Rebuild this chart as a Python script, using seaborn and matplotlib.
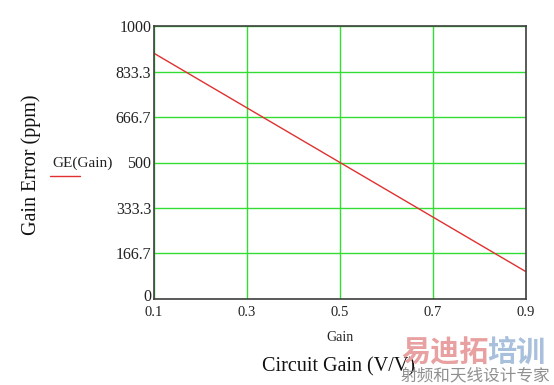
import matplotlib
matplotlib.use("Agg")
import matplotlib.pyplot as plt
import matplotlib.transforms as mtrans
import seaborn as sns
import pandas as pd

gain = [0.1, 0.3, 0.5, 0.7, 0.9]
gain_error = [900, 700, 500, 300, 100]
x_ticks = [0.1, 0.3, 0.5, 0.7, 0.9]
y_ticks = [0, 166.7, 333.3, 500, 666.7, 833.3, 1000]
y_tick_labels = ["0", "166.7", "333.3", "500", "666.7", "833.3", "1000"]

sns.set_theme(style="white")
plt.rcParams['font.family'] = ['Liberation Serif', 'DejaVu Serif']

df = pd.DataFrame({"Gain": gain, "GE": gain_error})

fig = plt.figure(figsize=(5.54, 3.85), dpi=100)
ax = fig.add_axes([154/554, 1 - 299/385, (526-154)/554, (299-26)/385])
sns.lineplot(data=df, x="Gain", y="GE", ax=ax, color="#e03030", linewidth=1.0)
ax.set_xlim(0.1, 0.9)
ax.set_ylim(0, 1000)
ax.set_xticks(x_ticks)
ax.set_xticklabels([f"{v:.1f}" for v in x_ticks])
ax.set_yticks(y_ticks)
ax.set_yticklabels(y_tick_labels)
ax.grid(True, color="#33dd33", linewidth=1.0)
ax.set_axisbelow(True)
for s in ax.spines.values():
    s.set_color("#404040")
    s.set_linewidth(1.2)
ax.tick_params(axis="x", length=0, labelsize=10.5, colors="#222222", pad=5)
ax.tick_params(axis="y", length=0, labelsize=11.5, colors="#222222", pad=2)
# lift the "0" label slightly, like the reference
zero_lbl = ax.get_yticklabels()[0]
zero_lbl.set_transform(zero_lbl.get_transform() +
                       mtrans.ScaledTranslation(0, 4/100, fig.dpi_scale_trans))
ax.set_xlabel("Gain", fontsize=10, labelpad=9, color="#222222")
ax.set_ylabel("")

fig.text(31/554, 1 - 165/385, "Gain Error (ppm)", rotation=90, ha="center", va="center",
         fontsize=14.5, color="#111111")
fig.text(338/554, 1 - 367/385, "Circuit Gain (V/V)", ha="center", va="center",
         fontsize=14.5, color="#111111")

# legend
fig.text(52/554, 1 - 163/385, "GE(Gain)", ha="left", va="center", fontsize=11, color="#222222")
fig.lines.append(plt.Line2D([50/554, 80/554], [1 - 176/385, 1 - 176/385],
                            transform=fig.transFigure, color="#e03030", linewidth=1.0))

# watermark
fig.text(401/554, 1 - 352/385, "易迪拓", ha="left", va="center", fontsize=21, fontweight="bold",
         color="#e8a0a0", family=['Noto Sans CJK SC', 'DejaVu Sans'])
fig.text(487/554, 1 - 352/385, "培训", ha="left", va="center", fontsize=21, fontweight="bold",
         color="#a8c0dc", family=['Noto Sans CJK SC', 'DejaVu Sans'])
fig.text(401/554, 1 - 376/385, "射频和天线设计专家", ha="left", va="center", fontsize=12,
         color="#909090", family=['Noto Sans CJK SC', 'DejaVu Sans'])

fig.savefig("out.png", dpi=100)
